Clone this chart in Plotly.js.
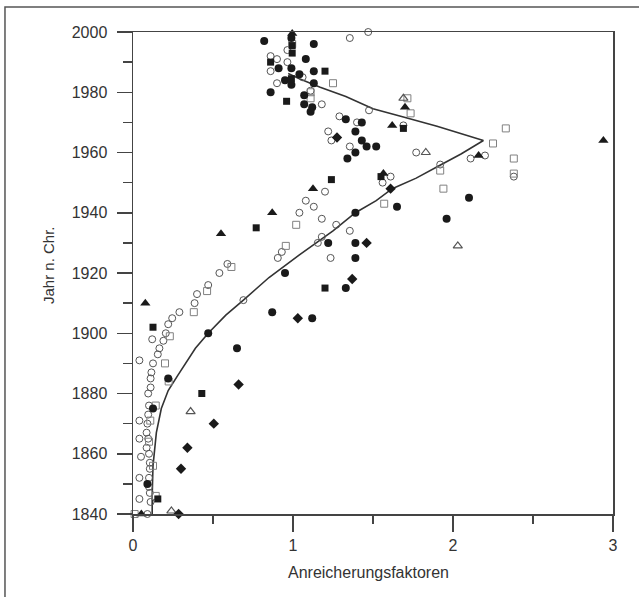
<!DOCTYPE html>
<html>
<head>
<meta charset="utf-8">
<script src="https://cdn.plot.ly/plotly-3.0.1.min.js"></script>
<style>html,body{margin:0;padding:0;background:#fff;}#chart{width:639px;height:597px;}</style>
</head>
<body>
<div id="chart"></div>
<script>
// Filled circles
const fcX = [0.82,0.99,1.13,1.08,0.91,0.99,1.04,1.13,0.99,1.13,0.95,0.86,1.07,1.07,1.12,1.11,1.33,1.43,1.39,1.43,1.46,1.52,1.39,1.34,2.10,1.65,1.39,1.96,1.22,1.39,1.39,0.95,1.33,0.87,1.12,0.47,0.65,0.22,0.125,0.09];
const fcY = [1997,1998,1996,1991,1988,1988,1986,1987,1982.5,1983,1984,1980,1979,1976,1975,1973.5,1971,1970,1967,1964,1962,1962,1960,1958,1945,1942,1940,1938,1930,1930,1925,1920,1915,1907,1905,1900,1895,1885,1875,1850];
// Filled squares
const fsX = [0.86,0.995,0.995,0.99,1.20,0.96,1.69,1.55,1.24,0.77,1.20,0.125,0.43,0.155];
const fsY = [1990,1995.5,1993,1984.5,1987,1977,1968,1952,1951,1935,1915,1902,1880,1845];
// Filled triangles
const ftX = [0.995,1.70,1.62,2.16,2.94,1.565,1.125,0.87,0.55,0.077,0.052];
const ftY = [1999.5,1975,1969,1959,1964,1953,1948,1940,1933,1910,1840];
// Filled diamonds
const fdX = [1.275,1.61,1.46,1.37,1.03,0.66,0.505,0.34,0.30,0.285];
const fdY = [1965,1948,1930,1918,1905,1883,1870,1862,1855,1840];
// Open triangles
const otX = [1.69,1.83,2.03,0.36,0.24];
const otY = [1978,1960,1929,1874,1841];
// Open squares
const osX = [1.715,1.735,1.25,1.11,1.11,2.33,2.25,2.38,2.38,1.94,1.92,1.57,1.02,0.955,0.615,0.463,0.38,0.23,0.20,0.223,0.142,0.108,0.10,0.125,0.142,0.01,0.995];
const osY = [1978,1973,1983,1980,1978,1968,1963,1958,1953,1948,1954,1943,1936,1929,1922,1914,1907,1899,1890,1884,1876,1871,1864,1856,1846,1840,1996];
// Open circles
const ocX = [1.47,1.355,0.86,0.90,0.965,0.965,0.86,0.90,1.06,1.11,1.18,1.475,1.29,1.40,1.69,1.22,1.24,1.355,1.77,2.11,2.20,1.92,2.38,1.61,1.56,1.20,1.08,1.13,1.04,1.18,1.27,1.355,1.18,1.155,0.93,0.905,1.235,0.59,0.54,0.47,0.40,0.385,0.69,0.29,0.245,0.22,0.205,0.12,0.19,0.165,0.155,0.04,0.125,0.115,0.11,0.11,0.095,0.10,0.095,0.04,0.09,0.085,0.04,0.095,0.085,0.05,0.10,0.105,0.105,0.04,0.10,0.10,0.105,0.04,0.11,0.09];
const ocY = [2000,1998,1992,1991,1994,1990,1987,1983,1985,1980.5,1976,1974,1972,1970,1969,1967,1964,1962,1960,1958,1959,1956,1952,1952,1950,1947,1944,1942,1940,1938,1936,1934,1932,1930,1927,1925,1925,1923,1920,1916,1913,1910,1911,1907,1905,1903,1900,1898,1897.5,1895,1893,1891,1890,1887,1885,1882,1880,1876,1873,1871,1870,1867,1865,1865,1862,1859,1860,1857,1855,1852,1852,1849,1847,1845,1844,1840];
// Fitted curve
const curveX = [0.12,0.12,0.125,0.146,0.177,0.22,0.28,0.33,0.39,0.47,0.58,0.69,0.85,1.04,1.25,1.39,1.52,1.62,1.77,1.91,2.05,2.19,1.9,1.69,1.50,1.33,1.17,1.04,0.97];
const curveY = [1840,1846,1856,1867,1875,1881,1886,1890,1895,1900,1906,1911,1918.5,1926,1934,1940,1944,1948,1951.5,1955.5,1959.5,1964,1968.7,1971.8,1974.5,1978.6,1981.7,1984.5,1986.2];

const dark = '#1a1a1a';
function pts(x, y, symbol, size, color, lw) {
  return {x: x, y: y, type: 'scatter', mode: 'markers', cliponaxis: false, hoverinfo: 'skip',
    marker: {symbol: symbol, size: size, color: color, line: {width: lw, color: color}}};
}
const data = [
  {x: curveX, y: curveY, type: 'scatter', mode: 'lines', line: {color: '#333', width: 1.6}, hoverinfo: 'skip'},
  pts(ocX, ocY, 'circle-open', 7, '#555', 1),
  pts(osX, osY, 'square-open', 7, '#808080', 1),
  pts(otX, otY, 'triangle-up-open', 8, '#555', 1.2),
  pts(fcX, fcY, 'circle', 8, dark, 0),
  pts(fsX, fsY, 'square', 7, dark, 0),
  pts(ftX, ftY, 'triangle-up', 9, dark, 0),
  pts(fdX, fdY, 'diamond', 8, dark, 0)
];

const fnt = {family: 'Liberation Sans, Arial, sans-serif', size: 16, color: '#333'};
const layout = {
  width: 639, height: 597,
  margin: {l: 133, r: 26, t: 32, b: 83},
  paper_bgcolor: '#fff', plot_bgcolor: '#fff',
  showlegend: false,
  font: fnt,
  xaxis: {range: [0, 3], dtick: 1, tick0: 0, ticks: 'outside', ticklen: 16, tickwidth: 1.5, tickcolor: '#444',
    showline: true, linecolor: '#444', linewidth: 1.5, mirror: true, showgrid: false, zeroline: false,
    tickfont: fnt,
    minor: {dtick: 0.5, ticks: 'outside', ticklen: 8, tickwidth: 1.5, tickcolor: '#444', showgrid: false}},
  yaxis: {range: [1840, 2000], dtick: 20, tick0: 1840, ticks: 'outside', ticklen: 15, tickwidth: 1.5, tickcolor: '#444',
    showline: true, linecolor: '#444', linewidth: 1.5, mirror: true, showgrid: false, zeroline: false,
    tickfont: fnt, ticklabelstandoff: 6,
    minor: {dtick: 10, ticks: 'outside', ticklen: 9, tickwidth: 1.5, tickcolor: '#444', showgrid: false}},
  annotations: [
    {text: 'Anreicherungsfaktoren', xref: 'paper', yref: 'paper', x: 0.49, y: -0.1224, xanchor: 'center', yanchor: 'middle', showarrow: false, font: fnt},
    {text: 'Jahr n. Chr.', xref: 'paper', yref: 'paper', x: -0.175, y: 0.5166, xanchor: 'center', yanchor: 'middle', textangle: -90, showarrow: false, font: {family: fnt.family, size: 15, color: '#333'}}
  ],
  shapes: [
    {type: 'rect', xref: 'paper', yref: 'paper', x0: -0.2667, x1: 1.0667, y0: -0.189, y1: 1.0519, line: {color: '#555', width: 1.5}}
  ]
};
Plotly.newPlot('chart', data, layout, {displayModeBar: false, staticPlot: true});
</script>
</body>
</html>
